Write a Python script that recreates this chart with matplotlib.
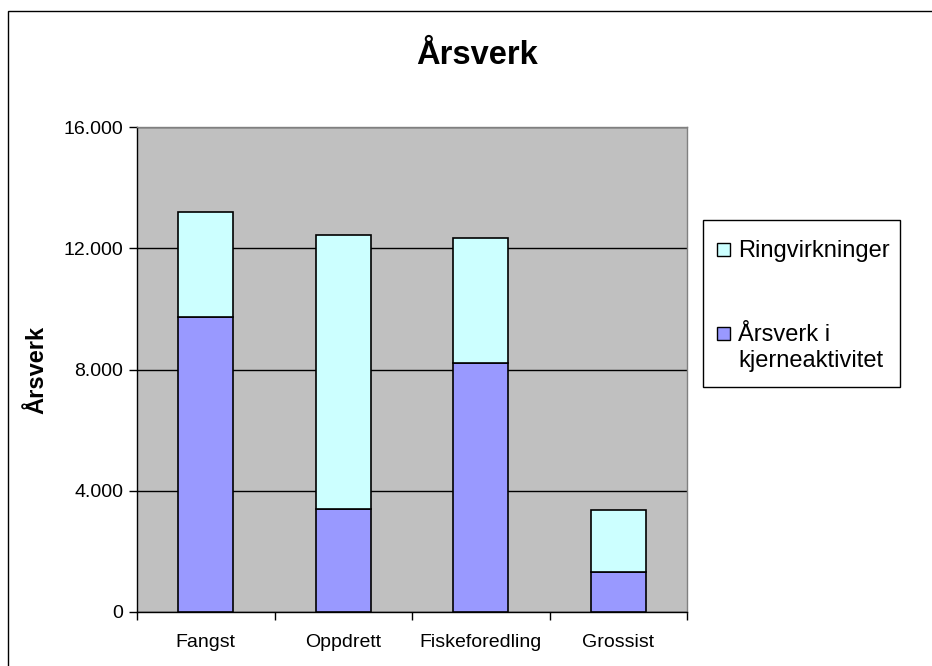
import numpy as np
import matplotlib.pyplot as plt
from matplotlib.patches import Rectangle
from matplotlib.ticker import FuncFormatter

plt.rcParams['font.family'] = ['Liberation Sans', 'DejaVu Sans']

# Data (årsverk)
categories = ["Fangst", "Oppdrett", "Fiskeforedling", "Grossist"]
kjerne = [9730, 3400, 8200, 1320]          # Årsverk i kjerneaktivitet
totalt = [13200, 12450, 12350, 3360]       # stack total
ringvirkninger = [t - k for t, k in zip(totalt, kjerne)]

c_core = "#9999FF"
c_ring = "#CCFFFF"

fig = plt.figure(figsize=(9.32, 6.66), dpi=100)
W, H = 932, 666


def px(x, y):
    # pixel position (from top left) -> figure fraction
    return x / W, 1 - y / H


ax = fig.add_axes([137 / W, 1 - 612 / H, (687 - 137) / W, (612 - 127) / H])
ax.set_facecolor("#C0C0C0")

x = np.arange(len(categories))
ax.bar(x, kjerne, width=0.4, color=c_core, edgecolor="black", linewidth=1.2, zorder=3)
ax.bar(x, ringvirkninger, bottom=kjerne, width=0.4, color=c_ring,
       edgecolor="black", linewidth=1.2, zorder=3)

ax.set_xlim(-0.5, len(categories) - 0.5)
ax.set_ylim(0, 16000)
ax.set_yticks([0, 4000, 8000, 12000, 16000])
ax.yaxis.set_major_formatter(FuncFormatter(lambda v, p: f"{int(v):,}".replace(",", ".")))
ax.grid(axis="y", color="black", linewidth=1.0, zorder=1)
ax.set_axisbelow(True)

# category ticks sit between the bars
ax.set_xticks(x)
ax.set_xticklabels(categories, fontsize=14)
ax.tick_params(axis="x", length=0, pad=16)
ax.set_xticks(np.arange(-0.5, len(categories)), minor=True)
ax.tick_params(axis="x", which="minor", length=6, width=1, color="black")
ax.tick_params(axis="y", labelsize=14, length=6, width=1, pad=4)

for side in ["top", "right"]:
    ax.spines[side].set_color("#808080")
    ax.spines[side].set_linewidth(1.0)
ax.spines["left"].set_linewidth(1.0)
ax.spines["bottom"].set_linewidth(1.0)

ax.set_ylabel("Årsverk", fontsize=17, fontweight="bold", labelpad=11)
fig.text(*px(477, 55), "Årsverk", fontsize=23.5, fontweight="bold",
         ha="center", va="center")

# legend box drawn by hand so the swatch lines up with the first text line
fig.patches.append(Rectangle(px(703, 387), 197 / W, 167 / H, transform=fig.transFigure,
                             facecolor="white", edgecolor="black", linewidth=1.0))
fig.patches.append(Rectangle(px(717, 256), 13 / W, 13 / H, transform=fig.transFigure,
                             facecolor=c_ring, edgecolor="black", linewidth=1.0))
fig.patches.append(Rectangle(px(717, 340), 13 / W, 13 / H, transform=fig.transFigure,
                             facecolor=c_core, edgecolor="black", linewidth=1.0))
fig.text(*px(738, 257), "Ringvirkninger", fontsize=17, va="baseline")
fig.text(*px(738, 341), "Årsverk i", fontsize=17, va="baseline")
fig.text(*px(738, 367), "kjerneaktivitet", fontsize=17, va="baseline")

# outer chart border
fig.patches.append(Rectangle((8 / W, -0.05), 1.0, 1 - 11 / H + 0.05,
                             transform=fig.transFigure, fill=False,
                             edgecolor="black", linewidth=1.0))

fig.savefig("out.png", dpi=100)
